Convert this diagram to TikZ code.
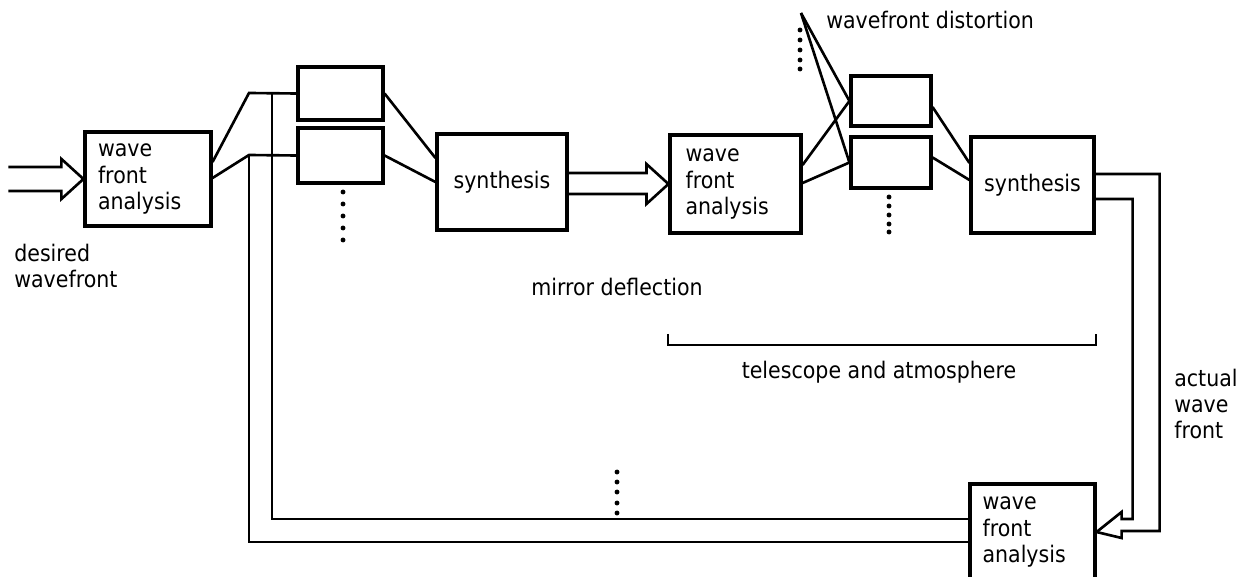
\documentclass[tikz,border=0pt]{standalone}
\usepackage{fontspec}
\setmainfont{DejaVu Sans}[FakeStretch=0.9]
\usetikzlibrary{calc}

\tikzset{
  box/.style={draw, line width=1.8pt, inner sep=0pt, font=\fontsize{13pt}{15pt}\selectfont},
  wfa/.style={box, text width=2cm, align=left},
  lbl/.style={font=\fontsize{13pt}{15pt}\selectfont, inner sep=0pt},
}

\begin{document}
\begin{tikzpicture}[x=0.02cm, y=-0.02cm, line width=1.5pt]
    \useasboundingbox (0,0) rectangle (1244,577);
    \clip (0,0) rectangle (1244,577);

    % 1. boxes
    \node[wfa, minimum width=2.52cm, minimum height=1.88cm] (A1) at (148,179) {wave\\front\\analysis};
    \node[box, minimum width=1.7cm, minimum height=1.06cm] (L1) at (340.5,93.5) {};
    \node[box, minimum width=1.7cm, minimum height=1.1cm] (L2) at (340.5,155.5) {};
    \node[box, minimum width=2.6cm, minimum height=1.92cm] (S1) at (502,182) {synthesis};
    \node[wfa, minimum width=2.62cm, minimum height=1.96cm] (A2) at (735.5,184) {wave\\front\\analysis};
    \node[box, minimum width=1.6cm, minimum height=1cm] (R1) at (891,101) {};
    \node[box, minimum width=1.6cm, minimum height=1.02cm] (R2) at (891,162.5) {};
    \node[box, minimum width=2.46cm, minimum height=1.92cm] (S2) at (1032.5,185) {synthesis};
    \node[wfa, minimum width=2.5cm, minimum height=1.92cm] (B) at (1032.5,532) {wave\\front\\analysis};

    % 2. corners and the apex
    \coordinate (k1) at (249,93);
    \coordinate (k2) at (249,155);
    \coordinate (t1) at (272,93);
    \coordinate (ap) at (801,13);

    % 3. hollow arrows
    \draw (A1.west) -- ++(-22,-20) -- ++(0,8) -- ++(-53,0);
    \draw (A1.west) -- ++(-22,20) -- ++(0,-8) -- ++(-53,0);
    \draw (A2.west) -- ++(-22,-20) -- ++(0,9) -- ++(-81,0);
    \draw (A2.west) -- ++(-22,20) -- ++(0,-10) -- ++(-81,0);

    % 4. lines between the boxes
    \draw ($(A1.east)+(0,-17)$) -- (k1) -- (L1.west);
    \draw ($(A1.east)+(0,-1)$) -- (k2) -- (L2.west);
    \draw (L1.east) -- ($(S1.west)+(0,-24)$);
    \draw (L2.east) -- (S1.west);
    \draw ($(A2.east)+(0,-19)$) -- (R1.west);
    \draw ($(A2.east)+(0,-1)$) -- (R2.west);
    \draw ($(R1.east)+(0,6)$) -- ($(S2.west)+(0,-22)$);
    \draw ($(R2.east)+(0,-5)$) -- ($(S2.west)+(0,-5)$);
    \draw (ap) -- (R1.west);
    \draw (ap) -- (R2.west);

    % 5. loop back through the lower box
    \draw ($(S2.east)+(0,14)$) -| ++(37,320) -- ++(-11,0) -- ++(0,-7) -- (B.east);
    \draw ($(S2.east)+(0,-11)$) -| ++(64,357) -- ++(-38,0) -- ++(0,7) -- (B.east);
    \draw ($(B.west)+(0,-13)$) -| (t1);
    \draw ($(B.west)+(0,10)$) -| (k2);

    % 6. dots
    \foreach \y in {192,204,216,228,240} \fill (343,\y) circle (1.4pt);
    \foreach \y in {197,206,215,224,232} \fill (889,\y) circle (1.4pt);
    \foreach \y in {30,40,50,60,69} \fill (800,\y) circle (1.4pt);
    \foreach \y in {472,482,492,503,513} \fill (617,\y) circle (1.4pt);

    % 7. bracket
    \draw (668,334) -- (668,345) -- (1096,345) -- (1096,334);

    % 8. labels
    \node[lbl, anchor=west, align=left] (dw) at (13,266) {desired\\wavefront};
    \node[lbl] (md) at (617,287) {mirror deflection};
    \node[lbl] (ta) at (879,372) {telescope and atmosphere};
    \node[lbl, anchor=west, align=left] (aw) at (1173,404) {actual\\wave\\front};
    \node[lbl, anchor=west] (wd) at (825,20) {wavefront distortion};

\end{tikzpicture}
\end{document}
